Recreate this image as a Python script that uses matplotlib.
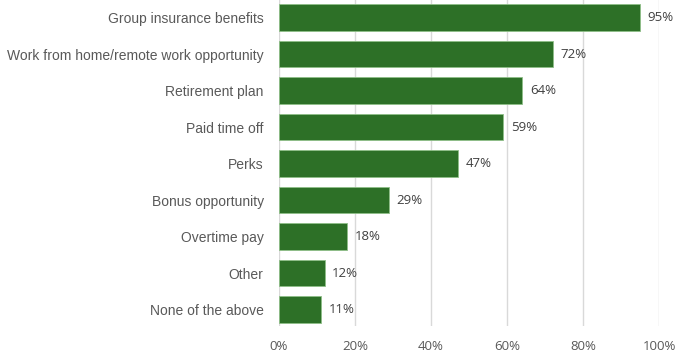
import matplotlib
matplotlib.use("Agg")
import matplotlib.pyplot as plt
from matplotlib.ticker import FuncFormatter

categories = [
    "Group insurance benefits",
    "Work from home/remote work opportunity",
    "Retirement plan",
    "Paid time off",
    "Perks",
    "Bonus opportunity",
    "Overtime pay",
    "Other",
    "None of the above",
]
values = [95, 72, 64, 59, 47, 29, 18, 12, 11]
xticks = [0, 20, 40, 60, 80, 100]

fig = plt.figure(figsize=(6.76, 3.54), dpi=100)
W, H = 676, 354
top_px, bot_px = 0, 326
ax = fig.add_axes([279 / W, 1 - bot_px / H, 380 / W, (bot_px - top_px) / H])

pos = list(range(len(categories)))
ax.barh(pos, values, height=0.72, color="#2D7027", edgecolor="#8fbf88",
        linewidth=0.6, zorder=3)

for p, v in zip(pos, values):
    ax.text(v + 2, p, f"{v}%", va="center", ha="left", fontsize=9.5,
            color="#404040", family="Open Sans")

ax.set_xlim(0, 100)
ax.set_ylim(8.45, -0.48)
ax.set_xticks(xticks)
ax.xaxis.set_major_formatter(FuncFormatter(lambda x, _: f"{x:.0f}%"))
ax.set_yticks(pos)
ax.set_yticklabels(categories, family="Liberation Sans", fontsize=10, color="#595959")
for lbl in ax.get_xticklabels():
    lbl.set_family("Open Sans")
    lbl.set_fontsize(9.5)
    lbl.set_color("#595959")

ax.grid(axis="x", color="#d9d9d9", linewidth=1, zorder=0)
ax.tick_params(axis="both", length=0)
ax.tick_params(axis="y", pad=11)
ax.tick_params(axis="x", pad=10)
for s in ax.spines.values():
    s.set_visible(False)

fig.savefig("out.png", dpi=100)
